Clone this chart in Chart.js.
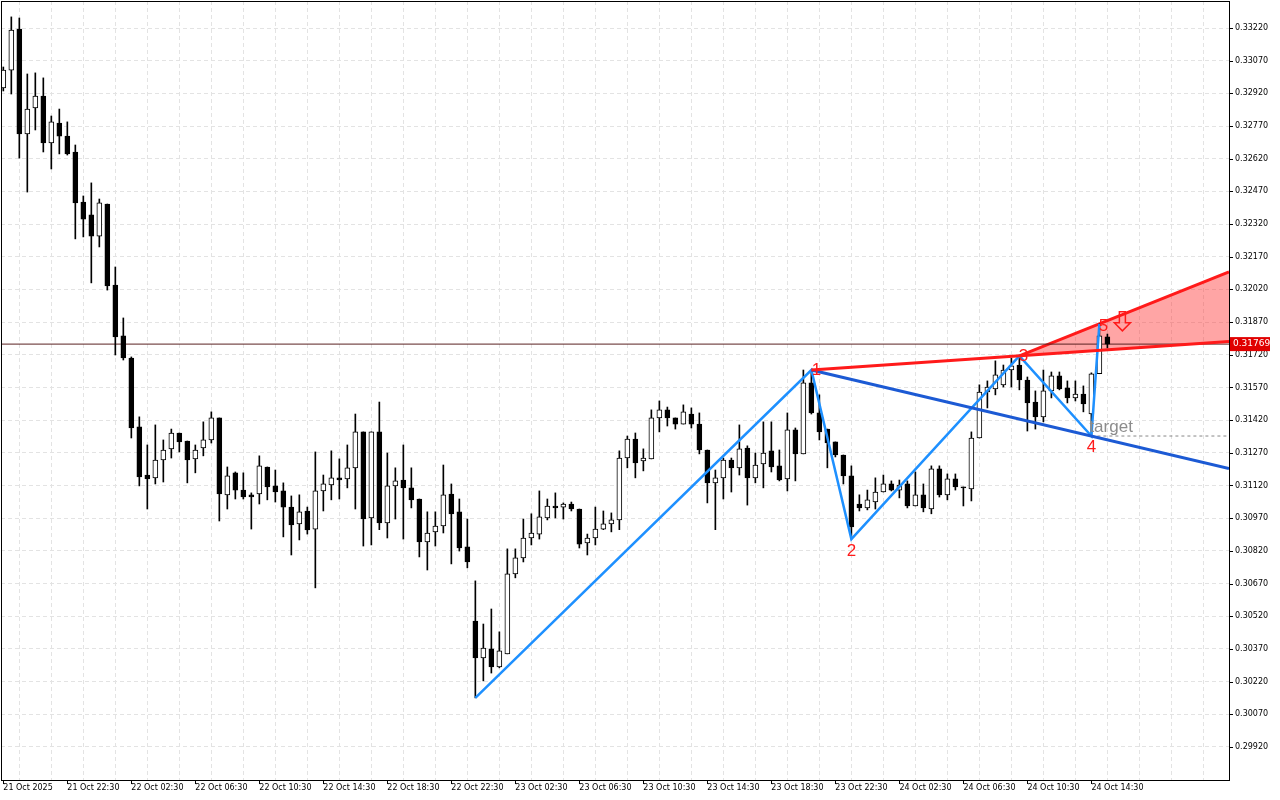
<!DOCTYPE html>
<html><head><meta charset="utf-8">
<script src="https://cdn.jsdelivr.net/npm/chart.js@4.4.1/dist/chart.umd.min.js"></script>
<style>html,body{margin:0;padding:0;background:#fff}#wrap{width:1280px;height:800px}</style>
</head><body><div id="wrap"><canvas id="c" width="1280" height="800"></canvas></div>
<script>
const timeLabels=["21 Oct 2025","21 Oct 22:30","22 Oct 02:30","22 Oct 06:30","22 Oct 10:30","22 Oct 14:30","22 Oct 18:30","22 Oct 22:30","23 Oct 02:30","23 Oct 06:30","23 Oct 10:30","23 Oct 14:30","23 Oct 18:30","23 Oct 22:30","24 Oct 02:30","24 Oct 06:30","24 Oct 10:30","24 Oct 14:30"];
const priceTicks=[0.29920,0.30070,0.30220,0.30370,0.30520,0.30670,0.30820,0.30970,0.31120,0.31270,0.31420,0.31570,0.31720,0.31870,0.32020,0.32170,0.32320,0.32470,0.32620,0.32770,0.32920,0.33070,0.33220];
const opens=[.32945,.33027,.33215,.32734,.32853,.32908,.32692,.32784,.32724,.32651,.32421,.32362,.32265,.32412,.32040,.31807,.31705,.31389,.31168,.31155,.31237,.31288,.31361,.31324,.31242,.31292,.31329,.31430,.31077,.31178,.31099,.31077,.31081,.31205,.31118,.31095,.31021,.30944,.31003,.30920,.31095,.31122,.31155,.31150,.31201,.31366,.30971,.31366,.30948,.31118,.31145,.31109,.31058,.30861,.30907,.30934,.31081,.30999,.30838,.30498,.30328,.30370,.30287,.30347,.30714,.30788,.30879,.30897,.30971,.31026,.31021,.31035,.31012,.30856,.30879,.30920,.30944,.30962,.31246,.31333,.31233,.31242,.31430,.31467,.31430,.31402,.31448,.31402,.31283,.31132,.31155,.31237,.31201,.31292,.31155,.31219,.31279,.31210,.31150,.31375,.31265,.31591,.31453,.31379,.31320,.31260,.31164,.31035,.31017,.31044,.31090,.31127,.31099,.31127,.31026,.31077,.31012,.31196,.31077,.31150,.31113,.31104,.31338,.31549,.31563,.31582,.31650,.31673,.31604,.31503,.31435,.31554,.31623,.31568,.31522,.31540,.31448,.31633,.31802];
const highs=[.33041,.33271,.33266,.33009,.33014,.32991,.32816,.32848,.32789,.32683,.32449,.32509,.32435,.32412,.32123,.31889,.31710,.31435,.31306,.31398,.31329,.31379,.31361,.31324,.31306,.31412,.31458,.31430,.31205,.31182,.31178,.31086,.31256,.31205,.31191,.31132,.31072,.31077,.31021,.31274,.31168,.31279,.31242,.31306,.31448,.31366,.31366,.31503,.31269,.31201,.31306,.31201,.31058,.30999,.30999,.31214,.31127,.31058,.30966,.30682,.30484,.30553,.30448,.30829,.30829,.30966,.30990,.31095,.31058,.31086,.31040,.31044,.31012,.30897,.31021,.31003,.30994,.31279,.31347,.31361,.31288,.31467,.31508,.31480,.31430,.31490,.31476,.31453,.31283,.31191,.31246,.31246,.31398,.31302,.31269,.31412,.31412,.31283,.31453,.31384,.31650,.31650,.31536,.31379,.31320,.31260,.31210,.31077,.31099,.31155,.31168,.31141,.31145,.31141,.31182,.31127,.31210,.31210,.31173,.31173,.31113,.31366,.31582,.31600,.31692,.31673,.31705,.31715,.31618,.31554,.31650,.31641,.31641,.31600,.31600,.31577,.31637,.31862,.31815];
const lows=[.32931,.32917,.32623,.32467,.32752,.32651,.32573,.32642,.32637,.32252,.32261,.32050,.32215,.32017,.31719,.31696,.31338,.31118,.31012,.31127,.31136,.31246,.31274,.31132,.31178,.31256,.31315,.30957,.31012,.31058,.31058,.30920,.31035,.31054,.31044,.30884,.30801,.30870,.30897,.30650,.31003,.31054,.31058,.31109,.31012,.30842,.30847,.30917,.30879,.30966,.30874,.31017,.30792,.30732,.30842,.30902,.30760,.30819,.30742,.30145,.30223,.30259,.30283,.30347,.30696,.30769,.30847,.30874,.30962,.30971,.30966,.31003,.30833,.30801,.30847,.30917,.30907,.30917,.31201,.31155,.31187,.31242,.31366,.31393,.31379,.31402,.31384,.31265,.31040,.30917,.31058,.31090,.31168,.31030,.31132,.31109,.31182,.31141,.31095,.31141,.31265,.31448,.31329,.31201,.31251,.31127,.30874,.31003,.31008,.31012,.31090,.31095,.31063,.31017,.31026,.30999,.30990,.31067,.31054,.31099,.31026,.31049,.31338,.31476,.31536,.31572,.31572,.31559,.31370,.31379,.31412,.31522,.31559,.31499,.31508,.31458,.31347,.31633,.31751];
const closes=[.33027,.33211,.32734,.32848,.32908,.32692,.32789,.32724,.32642,.32417,.32343,.32265,.32417,.32036,.31802,.31705,.31384,.31159,.31150,.31237,.31283,.31361,.31320,.31237,.31283,.31329,.31430,.31081,.31164,.31099,.31067,.31067,.31210,.31113,.31090,.31021,.30939,.30999,.30916,.31095,.31127,.31155,.31145,.31201,.31366,.30966,.31366,.30948,.31118,.31141,.31109,.31054,.30861,.30902,.30934,.31077,.30990,.30833,.30769,.30328,.30374,.30287,.30361,.30714,.30788,.30879,.30902,.30976,.31026,.31017,.31035,.31012,.30851,.30879,.30920,.30944,.30962,.31246,.31333,.31223,.31246,.31430,.31467,.31430,.31402,.31458,.31402,.31283,.31132,.31155,.31237,.31201,.31288,.31155,.31214,.31269,.31205,.31145,.31375,.31265,.31591,.31453,.31366,.31315,.31260,.31164,.30930,.31017,.31054,.31090,.31127,.31099,.31122,.31026,.31077,.31017,.31196,.31077,.31150,.31113,.31109,.31338,.31549,.31572,.31628,.31650,.31669,.31604,.31499,.31435,.31554,.31623,.31563,.31522,.31540,.31494,.31633,.31807,.31769];
const patternIdx=[59,101,106,127,136,137];
const patternPrice=[.30145,.31650,.30874,.31715,.31347,.31862];
const patternNames=["","1","2","3","4","5"];
const lastPrice=0.31769;

const XMIN=-0.29, XMAX=153.2;
function ext(i0,p0,i1,p1,x){return p0+(p1-p0)*(x-i0)/(i1-i0);}
const P=(k)=>({x:patternIdx[k],y:patternPrice[k]});

const bodies=opens.map((o,i)=>({x:i,y:[o,closes[i]]}));
const wicks=lows.map((l,i)=>({x:i,y:[l,highs[i]]}));
const bodyColors=opens.map((o,i)=>closes[i]>=o?'#ffffff':'#000000');

const red13=[P(1),{x:XMAX,y:ext(patternIdx[1],patternPrice[1],patternIdx[3],patternPrice[3],XMAX)}];
const red35=[P(3),{x:XMAX,y:ext(patternIdx[3],patternPrice[3],patternIdx[5],patternPrice[5],XMAX)}];
const redLowSeg=[P(3),{x:XMAX,y:red13[1].y}];
const blue14=[P(1),{x:XMAX,y:ext(patternIdx[1],patternPrice[1],patternIdx[4],patternPrice[4],XMAX)}];
const targetLine=[P(4),{x:XMAX,y:patternPrice[4]}];
const lastLine=[{x:XMIN,y:lastPrice},{x:XMAX,y:lastPrice}];

const lineDs=(data,color,w,extra)=>Object.assign({type:'line',data,borderColor:color,borderWidth:w,pointRadius:0,tension:0,fill:false,order:0},extra||{});

const overlay={id:'overlay',
 afterDatasetsDraw(ch){
  const ctx=ch.ctx,xs=ch.scales.x,ys=ch.scales.y,a=ch.chartArea;
  ctx.save();
  ctx.font='17px "Liberation Sans", Arial';ctx.fillStyle='#ff1a1a';ctx.textAlign='center';ctx.textBaseline='middle';
  const offs=[[0,0],[5,0],[0,12],[4,0],[0,11],[4,2]];
  for(let k=1;k<6;k++){ctx.fillText(patternNames[k],xs.getPixelForValue(patternIdx[k])+offs[k][0],ys.getPixelForValue(patternPrice[k])+offs[k][1]);}
  ctx.fillStyle='#8c8c8c';ctx.textAlign='left';ctx.textBaseline='alphabetic';
  ctx.fillText('target',xs.getPixelForValue(patternIdx[4])-2,ys.getPixelForValue(patternPrice[4])-4);
  const ax=xs.getPixelForValue(patternIdx[5])+23, ay=ys.getPixelForValue(patternPrice[5])-12;
  ctx.strokeStyle='#ff1a1a';ctx.lineWidth=1.5;ctx.beginPath();
  ctx.moveTo(ax-3,ay);ctx.lineTo(ax+3,ay);ctx.lineTo(ax+3,ay+11);ctx.lineTo(ax+8,ay+11);ctx.lineTo(ax,ay+19);ctx.lineTo(ax-8,ay+11);ctx.lineTo(ax-3,ay+11);ctx.closePath();ctx.stroke();
  ctx.strokeStyle='#000';ctx.lineWidth=1;ctx.strokeRect(a.left+0.5,a.top+0.5,a.right-a.left,a.bottom-a.top);
  priceTicks.forEach(p=>{const y=Math.round(ys.getPixelForValue(p))+0.5;ctx.beginPath();ctx.moveTo(a.right,y);ctx.lineTo(a.right+4,y);ctx.stroke();});
  timeLabels.forEach((t,k)=>{const x=Math.round(xs.getPixelForValue(k*8))+0.5;ctx.beginPath();ctx.moveTo(x,a.bottom);ctx.lineTo(x,a.bottom+4);ctx.stroke();});
  const ly=ys.getPixelForValue(lastPrice);
  ctx.fillStyle='#e00000';ctx.fillRect(a.right+1,ly-7,40,14);
  ctx.fillStyle='#fff';ctx.font='9px "DejaVu Sans"';ctx.textAlign='left';ctx.textBaseline='middle';
  ctx.fillText(lastPrice.toFixed(5),a.right+4,ly);
  ctx.restore();
 }};

new Chart(document.getElementById('c'),{
 type:'bar',
 data:{datasets:[
  lineDs(lastLine,'#5a2020',1,{order:3}),
  lineDs(redLowSeg,'rgba(0,0,0,0)',0,{order:4}),
  lineDs(red35,'#ff1a1a',3,{fill:'-1',backgroundColor:'rgba(255,40,40,0.42)',order:4}),
  lineDs(red13,'#ff1a1a',3),
  lineDs(blue14,'#1c5ad4',3),
  lineDs(targetLine,'#888',1,{borderDash:[3,3]}),
  lineDs(patternIdx.map((v,k)=>P(k)),'#1e90ff',2.5),
  {type:'bar',data:bodies,backgroundColor:bodyColors,borderColor:'#000',borderWidth:1,borderSkipped:false,barThickness:5,minBarLength:1,grouped:false,order:1},
  {type:'bar',data:wicks,backgroundColor:'#000',borderWidth:0,barThickness:1,grouped:false,order:2}
 ]},
 options:{responsive:false,animation:false,events:[],
  layout:{padding:{top:1,left:1,right:0,bottom:0}},
  plugins:{legend:{display:false},tooltip:{enabled:false}},
  scales:{
   x:{type:'linear',min:XMIN,max:XMAX,offset:false,
    afterBuildTicks(s){const t=[];for(let v=0;v<=XMAX;v+=4)t.push({value:v});s.ticks=t;},
    afterFit(s){s.height=20;s.paddingLeft=0;s.paddingRight=0;},
    ticks:{autoSkip:false,maxRotation:0,align:'start',padding:3,color:'#000',font:{family:'DejaVu Sans',size:8},
     callback(v){return (v%8===0&&timeLabels[v/8])?timeLabels[v/8]:'';}},
    grid:{color:'#e3e3e3',drawTicks:false},border:{display:false,dash:[4,3]}},
   y:{position:'right',min:0.29768,max:0.33344,
    afterBuildTicks(s){s.ticks=priceTicks.map(v=>({value:v}));},
    afterFit(s){s.width=51;s.paddingTop=0;s.paddingBottom=0;},
    ticks:{padding:6,color:'#000',font:{family:'DejaVu Sans',size:8},callback:v=>v.toFixed(5)},
    grid:{color:'#e3e3e3',drawTicks:false},border:{display:false,dash:[4,3]}}
  }},
 plugins:[overlay]
});
</script></body></html>
